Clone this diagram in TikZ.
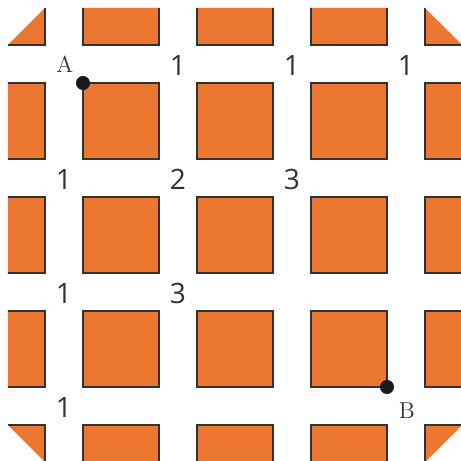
\documentclass[tikz,border=0pt]{standalone}
\usepackage{fontspec}
\newfontfamily\digitfont{Open Sans}
\definecolor{tileorange}{RGB}{236,119,48}
\definecolor{edgegray}{RGB}{52,50,48}
\tikzset{
  tile/.style={fill=tileorange, draw=edgegray, line width=1pt},
  tally/.style={font=\digitfont\fontsize{14}{14}\selectfont, text=edgegray, inner sep=0pt},
  letter/.style={font=\fontsize{11.5}{11.5}\selectfont, text=edgegray, inner sep=0pt},
  dotmark/.style={circle, fill=black!90, inner sep=0pt, minimum size=7pt}
}
\begin{document}
\begin{tikzpicture}[x=2cm, y=-2cm]
  % frame of the picture
  \useasboundingbox (-0.728,-0.728) rectangle (3.316,3.316);

  % tiles, corners cut off
  \begin{scope}
    \clip (-0.658,-1/3) -- (-1/3,-0.658) -- (3,-0.658) -- (3.325,-1/3)
      -- (3.325,3) -- (3,3.325) -- (-1/3,3.325) -- (-0.658,3) -- cycle;
    \foreach \i in {-1,...,3}
      \foreach \j in {-1,...,3}
        \draw[tile] (\i,\j) rectangle ++(2/3,2/3);
  \end{scope}

  % end points
  \node[dotmark] (ptA) at (0,0) {};
  \node[dotmark] (ptB) at (8/3,8/3) {};
  \node[letter] (labA) at (-0.16,-0.16) {A};
  \node[letter] (labB) at (2.84,2.87) {B};

  % number of ways at each crossing
  \foreach \k/\m/\n [count=\c] in {1/0/1, 2/0/1, 3/0/1, 0/1/1, 1/1/2, 2/1/3, 0/2/1, 1/2/3, 0/3/1}
    \node[tally] (n\c) at (\k-1/6,\m-0.155) {\n};
\end{tikzpicture}
\end{document}
